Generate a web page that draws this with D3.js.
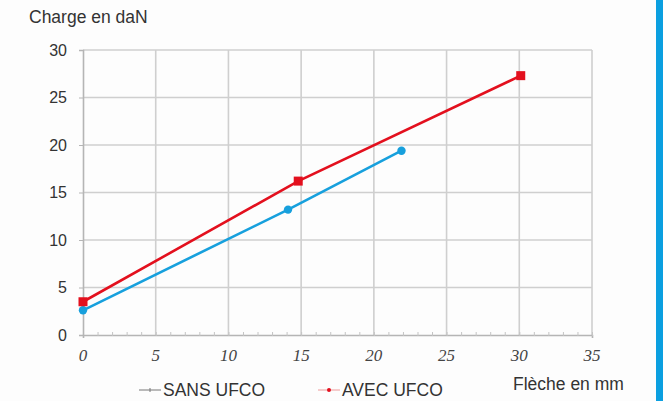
<!DOCTYPE html>
<meta charset="utf-8">
<script src="https://d3js.org/d3.v7.min.js"></script>
<style>
  body { margin: 0; background: #fff; }
</style>
<div id="chart"></div>
<script>

// data
var xTicks = [0, 5, 10, 15, 20, 25, 30, 35];
var yTicks = [0, 5, 10, 15, 20, 25, 30];
var sansX = [0, 14.1, 21.9];
var sansY = [2.6, 13.2, 19.4];
var avecX = [0, 14.8, 30.1];
var avecY = [3.5, 16.2, 27.3];
var seriesNames = ["SANS UFCO", "AVEC UFCO"];

var width = 663, height = 401;
var margin = {top: 50, right: 71, bottom: 66, left: 83};
var sansFont = "Liberation Sans, Arial, sans-serif";

var svg = d3.select("#chart").append("svg")
    .attr("width", width)
    .attr("height", height);

svg.append("rect").attr("width", width).attr("height", height).attr("fill", "#fdfdfd");

// blue strip on the right edge
svg.append("rect").attr("x", 656).attr("y", 0).attr("width", 7).attr("height", height).attr("fill", "#0b9fe0");

var x = d3.scaleLinear().domain([0, 35]).range([margin.left, width - margin.right]);
var y = d3.scaleLinear().domain([0, 30]).range([height - margin.bottom, margin.top]);

// grid
svg.append("g").selectAll("line")
  .data(xTicks.slice(1))
  .enter().append("line")
    .attr("x1", function(d) { return x(d); })
    .attr("x2", function(d) { return x(d); })
    .attr("y1", y(30)).attr("y2", y(0))
    .attr("stroke", "#cfcfcf").attr("stroke-width", 1.6);

svg.append("g").selectAll("line")
  .data(yTicks.slice(1))
  .enter().append("line")
    .attr("x1", x(0)).attr("x2", x(35))
    .attr("y1", function(d) { return y(d); })
    .attr("y2", function(d) { return y(d); })
    .attr("stroke", "#cfcfcf").attr("stroke-width", 1.6);

// axes
var xAxis = svg.append("g")
    .attr("transform", "translate(0," + y(0) + ")")
    .call(d3.axisBottom(x).tickValues(d3.range(0, 36, 1)).tickSize(3).tickFormat(""));
xAxis.select(".domain").attr("stroke", "#b5b5b5").attr("stroke-width", 1.6);
xAxis.selectAll(".tick line").attr("stroke", "#c4c4c4").attr("transform", "translate(0,-3)").attr("y2", 4);

svg.append("g").selectAll("text")
  .data(xTicks)
  .enter().append("text")
    .attr("x", function(d) { return x(d); })
    .attr("y", y(0) + 26)
    .attr("text-anchor", "middle")
    .style("font-family", "Liberation Serif, serif")
    .style("font-style", "italic")
    .style("font-size", "17px")
    .attr("fill", "#444")
    .text(function(d) { return d; });

var yAxis = svg.append("g")
    .attr("transform", "translate(" + x(0) + ",0)")
    .call(d3.axisLeft(y).tickValues(yTicks).tickSize(4).tickPadding(12));
yAxis.select(".domain").attr("stroke", "#b5b5b5").attr("stroke-width", 1.6);
yAxis.selectAll(".tick line").attr("stroke", "#b5b5b5");
yAxis.selectAll("text")
    .style("font-family", sansFont)
    .style("font-size", "16px")
    .attr("fill", "#333");

// titles
svg.append("text")
    .attr("x", 29).attr("y", 23)
    .style("font-family", sansFont)
    .style("font-size", "17.5px")
    .attr("fill", "#333")
    .text("Charge en daN");

svg.append("text")
    .attr("x", 513).attr("y", 390)
    .style("font-family", sansFont)
    .style("font-size", "17.5px")
    .attr("fill", "#333")
    .text("Flèche en mm");

// lines
var line = d3.line().x(function(d) { return x(d[0]); }).y(function(d) { return y(d[1]); });
var sans = d3.zip(sansX, sansY);
var avec = d3.zip(avecX, avecY);

svg.append("path").datum(sans)
    .attr("d", line).attr("fill", "none")
    .attr("stroke", "#17a0dd").attr("stroke-width", 2.6);
svg.selectAll(".sansPt").data(sans).enter().append("circle")
    .attr("cx", function(d) { return x(d[0]); })
    .attr("cy", function(d) { return y(d[1]); })
    .attr("r", 4.2).attr("fill", "#17a0dd");

svg.append("path").datum(avec)
    .attr("d", line).attr("fill", "none")
    .attr("stroke", "#e3101e").attr("stroke-width", 2.6);
svg.selectAll(".avecPt").data(avec).enter().append("rect")
    .attr("x", function(d) { return x(d[0]) - 4.5; })
    .attr("y", function(d) { return y(d[1]) - 4.5; })
    .attr("width", 9).attr("height", 9).attr("fill", "#e3101e");

// legend
var legend = svg.append("g").attr("transform", "translate(139,396)");
legend.append("line").attr("x1", 0).attr("x2", 22).attr("y1", -6).attr("y2", -6).attr("stroke", "#777").attr("stroke-width", 1);
legend.append("line").attr("x1", 11).attr("x2", 11).attr("y1", -8).attr("y2", -4).attr("stroke", "#777").attr("stroke-width", 1);
legend.append("text").attr("x", 24).attr("y", 0)
    .style("font-family", sansFont).style("font-size", "17.5px").attr("fill", "#333")
    .text(seriesNames[0]);

var legend2 = svg.append("g").attr("transform", "translate(318,396)");
legend2.append("line").attr("x1", 0).attr("x2", 22).attr("y1", -6).attr("y2", -6).attr("stroke", "#e99").attr("stroke-width", 1);
legend2.append("circle").attr("cx", 11).attr("cy", -6).attr("r", 2).attr("fill", "#e3101e");
legend2.append("text").attr("x", 24).attr("y", 0)
    .style("font-family", sansFont).style("font-size", "17.5px").attr("fill", "#333")
    .text(seriesNames[1]);

</script>
